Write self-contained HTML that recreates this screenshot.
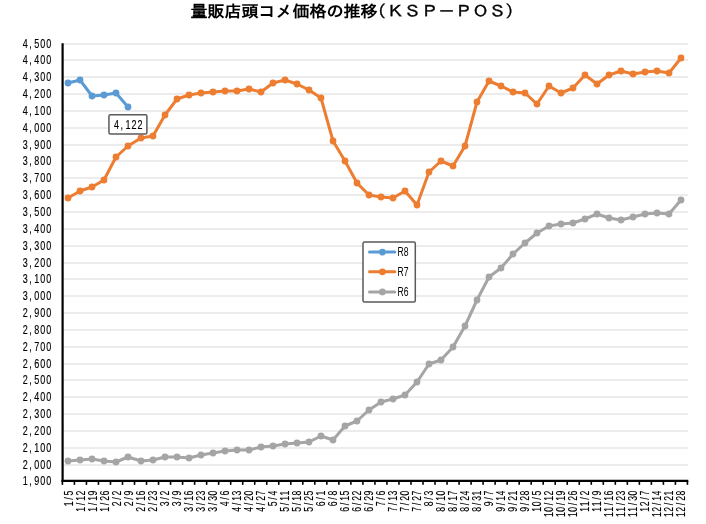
<!DOCTYPE html>
<html lang="ja">
<head>
<meta charset="utf-8">
<title>量販店頭コメ価格の推移（ＫＳＰ－ＰＯＳ）</title>
<style>
html,body{margin:0;padding:0;background:#fff;}
body{width:706px;height:524px;overflow:hidden;font-family:"Liberation Sans","IPAGothic",sans-serif;}
svg{display:block;}
</style>
</head>
<body>
<svg width="706" height="524" viewBox="0 0 706 524">
<rect x="0" y="0" width="706" height="524" fill="#ffffff"/>
<g stroke="#d9d9d9" stroke-width="1" fill="none">
<line x1="62.60" y1="465.00" x2="688.30" y2="465.00"/>
<line x1="62.60" y1="448.00" x2="688.30" y2="448.00"/>
<line x1="62.60" y1="431.00" x2="688.30" y2="431.00"/>
<line x1="62.60" y1="414.00" x2="688.30" y2="414.00"/>
<line x1="62.60" y1="397.00" x2="688.30" y2="397.00"/>
<line x1="62.60" y1="380.00" x2="688.30" y2="380.00"/>
<line x1="62.60" y1="364.00" x2="688.30" y2="364.00"/>
<line x1="62.60" y1="347.00" x2="688.30" y2="347.00"/>
<line x1="62.60" y1="330.00" x2="688.30" y2="330.00"/>
<line x1="62.60" y1="313.00" x2="688.30" y2="313.00"/>
<line x1="62.60" y1="296.00" x2="688.30" y2="296.00"/>
<line x1="62.60" y1="279.00" x2="688.30" y2="279.00"/>
<line x1="62.60" y1="263.00" x2="688.30" y2="263.00"/>
<line x1="62.60" y1="246.00" x2="688.30" y2="246.00"/>
<line x1="62.60" y1="229.00" x2="688.30" y2="229.00"/>
<line x1="62.60" y1="212.00" x2="688.30" y2="212.00"/>
<line x1="62.60" y1="195.00" x2="688.30" y2="195.00"/>
<line x1="62.60" y1="178.00" x2="688.30" y2="178.00"/>
<line x1="62.60" y1="161.00" x2="688.30" y2="161.00"/>
<line x1="62.60" y1="145.00" x2="688.30" y2="145.00"/>
<line x1="62.60" y1="128.00" x2="688.30" y2="128.00"/>
<line x1="62.60" y1="111.00" x2="688.30" y2="111.00"/>
<line x1="62.60" y1="94.00" x2="688.30" y2="94.00"/>
<line x1="62.60" y1="77.00" x2="688.30" y2="77.00"/>
<line x1="62.60" y1="60.00" x2="688.30" y2="60.00"/>
<line x1="62.60" y1="44.00" x2="688.30" y2="44.00"/>
</g>
<polyline points="68.00,461.00 80.00,460.00 92.00,459.00 104.00,461.00 116.00,462.00 128.00,457.00 141.00,461.00 153.00,460.00 165.00,457.00 177.00,457.00 189.00,458.00 201.00,455.00 213.00,453.00 225.00,451.00 237.00,450.00 249.00,450.00 261.00,447.00 273.00,446.00 285.00,444.00 297.00,443.00 309.00,442.00 321.00,436.00 333.00,440.00 345.00,426.00 357.00,421.00 369.00,410.00 381.00,402.00 393.00,399.00 405.00,395.00 417.00,382.00 429.00,364.00 441.00,360.00 453.00,347.00 465.00,326.00 477.00,300.00 489.00,277.00 501.00,268.00 513.00,254.00 525.00,243.00 537.00,233.00 549.00,226.00 561.00,224.00 573.00,223.00 585.00,219.00 597.00,214.00 609.00,218.00 621.00,220.00 633.00,217.00 645.00,214.00 657.00,213.00 669.00,214.00 681.00,200.00" fill="none" stroke="#a5a5a5" stroke-width="3" stroke-linejoin="round" stroke-linecap="round"/>
<g fill="#a5a5a5">
<circle cx="68.00" cy="461.00" r="3.4"/>
<circle cx="80.00" cy="460.00" r="3.4"/>
<circle cx="92.00" cy="459.00" r="3.4"/>
<circle cx="104.00" cy="461.00" r="3.4"/>
<circle cx="116.00" cy="462.00" r="3.4"/>
<circle cx="128.00" cy="457.00" r="3.4"/>
<circle cx="141.00" cy="461.00" r="3.4"/>
<circle cx="153.00" cy="460.00" r="3.4"/>
<circle cx="165.00" cy="457.00" r="3.4"/>
<circle cx="177.00" cy="457.00" r="3.4"/>
<circle cx="189.00" cy="458.00" r="3.4"/>
<circle cx="201.00" cy="455.00" r="3.4"/>
<circle cx="213.00" cy="453.00" r="3.4"/>
<circle cx="225.00" cy="451.00" r="3.4"/>
<circle cx="237.00" cy="450.00" r="3.4"/>
<circle cx="249.00" cy="450.00" r="3.4"/>
<circle cx="261.00" cy="447.00" r="3.4"/>
<circle cx="273.00" cy="446.00" r="3.4"/>
<circle cx="285.00" cy="444.00" r="3.4"/>
<circle cx="297.00" cy="443.00" r="3.4"/>
<circle cx="309.00" cy="442.00" r="3.4"/>
<circle cx="321.00" cy="436.00" r="3.4"/>
<circle cx="333.00" cy="440.00" r="3.4"/>
<circle cx="345.00" cy="426.00" r="3.4"/>
<circle cx="357.00" cy="421.00" r="3.4"/>
<circle cx="369.00" cy="410.00" r="3.4"/>
<circle cx="381.00" cy="402.00" r="3.4"/>
<circle cx="393.00" cy="399.00" r="3.4"/>
<circle cx="405.00" cy="395.00" r="3.4"/>
<circle cx="417.00" cy="382.00" r="3.4"/>
<circle cx="429.00" cy="364.00" r="3.4"/>
<circle cx="441.00" cy="360.00" r="3.4"/>
<circle cx="453.00" cy="347.00" r="3.4"/>
<circle cx="465.00" cy="326.00" r="3.4"/>
<circle cx="477.00" cy="300.00" r="3.4"/>
<circle cx="489.00" cy="277.00" r="3.4"/>
<circle cx="501.00" cy="268.00" r="3.4"/>
<circle cx="513.00" cy="254.00" r="3.4"/>
<circle cx="525.00" cy="243.00" r="3.4"/>
<circle cx="537.00" cy="233.00" r="3.4"/>
<circle cx="549.00" cy="226.00" r="3.4"/>
<circle cx="561.00" cy="224.00" r="3.4"/>
<circle cx="573.00" cy="223.00" r="3.4"/>
<circle cx="585.00" cy="219.00" r="3.4"/>
<circle cx="597.00" cy="214.00" r="3.4"/>
<circle cx="609.00" cy="218.00" r="3.4"/>
<circle cx="621.00" cy="220.00" r="3.4"/>
<circle cx="633.00" cy="217.00" r="3.4"/>
<circle cx="645.00" cy="214.00" r="3.4"/>
<circle cx="657.00" cy="213.00" r="3.4"/>
<circle cx="669.00" cy="214.00" r="3.4"/>
<circle cx="681.00" cy="200.00" r="3.4"/>
</g>
<polyline points="68.00,198.00 80.00,191.00 92.00,187.00 104.00,180.00 116.00,157.00 128.00,146.00 141.00,138.00 153.00,136.00 165.00,115.00 177.00,99.00 189.00,95.00 201.00,93.00 213.00,92.00 225.00,91.00 237.00,91.00 249.00,89.00 261.00,92.00 273.00,83.00 285.00,80.00 297.00,84.00 309.00,90.00 321.00,98.00 333.00,141.00 345.00,161.00 357.00,183.00 369.00,195.00 381.00,197.00 393.00,198.00 405.00,191.00 417.00,205.00 429.00,172.00 441.00,161.00 453.00,166.00 465.00,146.00 477.00,102.00 489.00,81.00 501.00,86.00 513.00,92.00 525.00,93.00 537.00,104.00 549.00,86.00 561.00,93.00 573.00,88.00 585.00,75.00 597.00,84.00 609.00,75.00 621.00,71.00 633.00,74.00 645.00,72.00 657.00,71.00 669.00,73.00 681.00,58.00" fill="none" stroke="#ed7d31" stroke-width="3" stroke-linejoin="round" stroke-linecap="round"/>
<g fill="#ed7d31">
<circle cx="68.00" cy="198.00" r="3.4"/>
<circle cx="80.00" cy="191.00" r="3.4"/>
<circle cx="92.00" cy="187.00" r="3.4"/>
<circle cx="104.00" cy="180.00" r="3.4"/>
<circle cx="116.00" cy="157.00" r="3.4"/>
<circle cx="128.00" cy="146.00" r="3.4"/>
<circle cx="141.00" cy="138.00" r="3.4"/>
<circle cx="153.00" cy="136.00" r="3.4"/>
<circle cx="165.00" cy="115.00" r="3.4"/>
<circle cx="177.00" cy="99.00" r="3.4"/>
<circle cx="189.00" cy="95.00" r="3.4"/>
<circle cx="201.00" cy="93.00" r="3.4"/>
<circle cx="213.00" cy="92.00" r="3.4"/>
<circle cx="225.00" cy="91.00" r="3.4"/>
<circle cx="237.00" cy="91.00" r="3.4"/>
<circle cx="249.00" cy="89.00" r="3.4"/>
<circle cx="261.00" cy="92.00" r="3.4"/>
<circle cx="273.00" cy="83.00" r="3.4"/>
<circle cx="285.00" cy="80.00" r="3.4"/>
<circle cx="297.00" cy="84.00" r="3.4"/>
<circle cx="309.00" cy="90.00" r="3.4"/>
<circle cx="321.00" cy="98.00" r="3.4"/>
<circle cx="333.00" cy="141.00" r="3.4"/>
<circle cx="345.00" cy="161.00" r="3.4"/>
<circle cx="357.00" cy="183.00" r="3.4"/>
<circle cx="369.00" cy="195.00" r="3.4"/>
<circle cx="381.00" cy="197.00" r="3.4"/>
<circle cx="393.00" cy="198.00" r="3.4"/>
<circle cx="405.00" cy="191.00" r="3.4"/>
<circle cx="417.00" cy="205.00" r="3.4"/>
<circle cx="429.00" cy="172.00" r="3.4"/>
<circle cx="441.00" cy="161.00" r="3.4"/>
<circle cx="453.00" cy="166.00" r="3.4"/>
<circle cx="465.00" cy="146.00" r="3.4"/>
<circle cx="477.00" cy="102.00" r="3.4"/>
<circle cx="489.00" cy="81.00" r="3.4"/>
<circle cx="501.00" cy="86.00" r="3.4"/>
<circle cx="513.00" cy="92.00" r="3.4"/>
<circle cx="525.00" cy="93.00" r="3.4"/>
<circle cx="537.00" cy="104.00" r="3.4"/>
<circle cx="549.00" cy="86.00" r="3.4"/>
<circle cx="561.00" cy="93.00" r="3.4"/>
<circle cx="573.00" cy="88.00" r="3.4"/>
<circle cx="585.00" cy="75.00" r="3.4"/>
<circle cx="597.00" cy="84.00" r="3.4"/>
<circle cx="609.00" cy="75.00" r="3.4"/>
<circle cx="621.00" cy="71.00" r="3.4"/>
<circle cx="633.00" cy="74.00" r="3.4"/>
<circle cx="645.00" cy="72.00" r="3.4"/>
<circle cx="657.00" cy="71.00" r="3.4"/>
<circle cx="669.00" cy="73.00" r="3.4"/>
<circle cx="681.00" cy="58.00" r="3.4"/>
</g>
<polyline points="68.00,83.00 80.00,80.00 92.00,96.00 104.00,95.00 116.00,93.00 128.00,107.00" fill="none" stroke="#5b9bd5" stroke-width="3" stroke-linejoin="round" stroke-linecap="round"/>
<g fill="#5b9bd5">
<circle cx="68.00" cy="83.00" r="3.4"/>
<circle cx="80.00" cy="80.00" r="3.4"/>
<circle cx="92.00" cy="96.00" r="3.4"/>
<circle cx="104.00" cy="95.00" r="3.4"/>
<circle cx="116.00" cy="93.00" r="3.4"/>
<circle cx="128.00" cy="107.00" r="3.4"/>
</g>
<line x1="62.60" y1="43.30" x2="62.60" y2="482.05" stroke="#000" stroke-width="2.2"/>
<line x1="61.50" y1="480.95" x2="688.30" y2="480.95" stroke="#000" stroke-width="2.2" stroke-linecap="butt"/>
<g stroke="#000" stroke-width="1.6">
<line x1="62.40" y1="480.95" x2="62.40" y2="484.85"/>
<line x1="74.42" y1="480.95" x2="74.42" y2="484.85"/>
<line x1="86.44" y1="480.95" x2="86.44" y2="484.85"/>
<line x1="98.46" y1="480.95" x2="98.46" y2="484.85"/>
<line x1="110.48" y1="480.95" x2="110.48" y2="484.85"/>
<line x1="122.50" y1="480.95" x2="122.50" y2="484.85"/>
<line x1="134.52" y1="480.95" x2="134.52" y2="484.85"/>
<line x1="146.54" y1="480.95" x2="146.54" y2="484.85"/>
<line x1="158.56" y1="480.95" x2="158.56" y2="484.85"/>
<line x1="170.58" y1="480.95" x2="170.58" y2="484.85"/>
<line x1="182.60" y1="480.95" x2="182.60" y2="484.85"/>
<line x1="194.62" y1="480.95" x2="194.62" y2="484.85"/>
<line x1="206.64" y1="480.95" x2="206.64" y2="484.85"/>
<line x1="218.66" y1="480.95" x2="218.66" y2="484.85"/>
<line x1="230.68" y1="480.95" x2="230.68" y2="484.85"/>
<line x1="242.70" y1="480.95" x2="242.70" y2="484.85"/>
<line x1="254.72" y1="480.95" x2="254.72" y2="484.85"/>
<line x1="266.74" y1="480.95" x2="266.74" y2="484.85"/>
<line x1="278.76" y1="480.95" x2="278.76" y2="484.85"/>
<line x1="290.78" y1="480.95" x2="290.78" y2="484.85"/>
<line x1="302.80" y1="480.95" x2="302.80" y2="484.85"/>
<line x1="314.82" y1="480.95" x2="314.82" y2="484.85"/>
<line x1="326.84" y1="480.95" x2="326.84" y2="484.85"/>
<line x1="338.86" y1="480.95" x2="338.86" y2="484.85"/>
<line x1="350.88" y1="480.95" x2="350.88" y2="484.85"/>
<line x1="362.90" y1="480.95" x2="362.90" y2="484.85"/>
<line x1="374.92" y1="480.95" x2="374.92" y2="484.85"/>
<line x1="386.94" y1="480.95" x2="386.94" y2="484.85"/>
<line x1="398.96" y1="480.95" x2="398.96" y2="484.85"/>
<line x1="410.98" y1="480.95" x2="410.98" y2="484.85"/>
<line x1="423.00" y1="480.95" x2="423.00" y2="484.85"/>
<line x1="435.02" y1="480.95" x2="435.02" y2="484.85"/>
<line x1="447.04" y1="480.95" x2="447.04" y2="484.85"/>
<line x1="459.06" y1="480.95" x2="459.06" y2="484.85"/>
<line x1="471.08" y1="480.95" x2="471.08" y2="484.85"/>
<line x1="483.10" y1="480.95" x2="483.10" y2="484.85"/>
<line x1="495.12" y1="480.95" x2="495.12" y2="484.85"/>
<line x1="507.14" y1="480.95" x2="507.14" y2="484.85"/>
<line x1="519.16" y1="480.95" x2="519.16" y2="484.85"/>
<line x1="531.18" y1="480.95" x2="531.18" y2="484.85"/>
<line x1="543.20" y1="480.95" x2="543.20" y2="484.85"/>
<line x1="555.22" y1="480.95" x2="555.22" y2="484.85"/>
<line x1="567.24" y1="480.95" x2="567.24" y2="484.85"/>
<line x1="579.26" y1="480.95" x2="579.26" y2="484.85"/>
<line x1="591.28" y1="480.95" x2="591.28" y2="484.85"/>
<line x1="603.30" y1="480.95" x2="603.30" y2="484.85"/>
<line x1="615.32" y1="480.95" x2="615.32" y2="484.85"/>
<line x1="627.34" y1="480.95" x2="627.34" y2="484.85"/>
<line x1="639.36" y1="480.95" x2="639.36" y2="484.85"/>
<line x1="651.38" y1="480.95" x2="651.38" y2="484.85"/>
<line x1="663.40" y1="480.95" x2="663.40" y2="484.85"/>
<line x1="675.42" y1="480.95" x2="675.42" y2="484.85"/>
<line x1="687.44" y1="480.95" x2="687.44" y2="484.85"/>
</g>
<g font-family='"Liberation Sans", "IPAGothic", sans-serif' font-size="12" fill="#000" stroke="#000" stroke-width="0.15">
<text transform="translate(0,485.40) scale(0.75,1)" x="30.27 38.93 45.80 53.80 61.80" y="0">1,900</text>
<text transform="translate(0,469.40) scale(0.75,1)" x="30.27 38.93 45.80 53.80 61.80" y="0">2,000</text>
<text transform="translate(0,452.40) scale(0.75,1)" x="30.27 38.93 45.80 53.80 61.80" y="0">2,100</text>
<text transform="translate(0,435.40) scale(0.75,1)" x="30.27 38.93 45.80 53.80 61.80" y="0">2,200</text>
<text transform="translate(0,418.40) scale(0.75,1)" x="30.27 38.93 45.80 53.80 61.80" y="0">2,300</text>
<text transform="translate(0,401.40) scale(0.75,1)" x="30.27 38.93 45.80 53.80 61.80" y="0">2,400</text>
<text transform="translate(0,384.40) scale(0.75,1)" x="30.27 38.93 45.80 53.80 61.80" y="0">2,500</text>
<text transform="translate(0,368.40) scale(0.75,1)" x="30.27 38.93 45.80 53.80 61.80" y="0">2,600</text>
<text transform="translate(0,351.40) scale(0.75,1)" x="30.27 38.93 45.80 53.80 61.80" y="0">2,700</text>
<text transform="translate(0,334.40) scale(0.75,1)" x="30.27 38.93 45.80 53.80 61.80" y="0">2,800</text>
<text transform="translate(0,317.40) scale(0.75,1)" x="30.27 38.93 45.80 53.80 61.80" y="0">2,900</text>
<text transform="translate(0,300.40) scale(0.75,1)" x="30.27 38.93 45.80 53.80 61.80" y="0">3,000</text>
<text transform="translate(0,283.40) scale(0.75,1)" x="30.27 38.93 45.80 53.80 61.80" y="0">3,100</text>
<text transform="translate(0,267.40) scale(0.75,1)" x="30.27 38.93 45.80 53.80 61.80" y="0">3,200</text>
<text transform="translate(0,250.40) scale(0.75,1)" x="30.27 38.93 45.80 53.80 61.80" y="0">3,300</text>
<text transform="translate(0,233.40) scale(0.75,1)" x="30.27 38.93 45.80 53.80 61.80" y="0">3,400</text>
<text transform="translate(0,216.40) scale(0.75,1)" x="30.27 38.93 45.80 53.80 61.80" y="0">3,500</text>
<text transform="translate(0,199.40) scale(0.75,1)" x="30.27 38.93 45.80 53.80 61.80" y="0">3,600</text>
<text transform="translate(0,182.40) scale(0.75,1)" x="30.27 38.93 45.80 53.80 61.80" y="0">3,700</text>
<text transform="translate(0,165.40) scale(0.75,1)" x="30.27 38.93 45.80 53.80 61.80" y="0">3,800</text>
<text transform="translate(0,149.40) scale(0.75,1)" x="30.27 38.93 45.80 53.80 61.80" y="0">3,900</text>
<text transform="translate(0,132.40) scale(0.75,1)" x="30.27 38.93 45.80 53.80 61.80" y="0">4,000</text>
<text transform="translate(0,115.40) scale(0.75,1)" x="30.27 38.93 45.80 53.80 61.80" y="0">4,100</text>
<text transform="translate(0,98.40) scale(0.75,1)" x="30.27 38.93 45.80 53.80 61.80" y="0">4,200</text>
<text transform="translate(0,81.40) scale(0.75,1)" x="30.27 38.93 45.80 53.80 61.80" y="0">4,300</text>
<text transform="translate(0,64.40) scale(0.75,1)" x="30.27 38.93 45.80 53.80 61.80" y="0">4,400</text>
<text transform="translate(0,48.40) scale(0.75,1)" x="30.27 38.93 45.80 53.80 61.80" y="0">4,500</text>
</g>
<g font-family='"Liberation Sans", "IPAGothic", sans-serif' font-size="12" fill="#000" stroke="#000" stroke-width="0.15">
<text transform="translate(72.76,490.5) rotate(-90) scale(0.72,1)" x="-21.88 -12.92 -6.88" y="0">1/5</text>
<text transform="translate(84.77,490.5) rotate(-90) scale(0.72,1)" x="-29.38 -20.42 -14.38 -6.88" y="0">1/12</text>
<text transform="translate(96.78,490.5) rotate(-90) scale(0.72,1)" x="-29.38 -20.42 -14.38 -6.88" y="0">1/19</text>
<text transform="translate(108.79,490.5) rotate(-90) scale(0.72,1)" x="-29.38 -20.42 -14.38 -6.88" y="0">1/26</text>
<text transform="translate(120.80,490.5) rotate(-90) scale(0.72,1)" x="-21.88 -12.92 -6.88" y="0">2/2</text>
<text transform="translate(132.82,490.5) rotate(-90) scale(0.72,1)" x="-21.88 -12.92 -6.88" y="0">2/9</text>
<text transform="translate(144.83,490.5) rotate(-90) scale(0.72,1)" x="-29.38 -20.42 -14.38 -6.88" y="0">2/16</text>
<text transform="translate(156.84,490.5) rotate(-90) scale(0.72,1)" x="-29.38 -20.42 -14.38 -6.88" y="0">2/23</text>
<text transform="translate(168.85,490.5) rotate(-90) scale(0.72,1)" x="-21.88 -12.92 -6.88" y="0">3/2</text>
<text transform="translate(180.86,490.5) rotate(-90) scale(0.72,1)" x="-21.88 -12.92 -6.88" y="0">3/9</text>
<text transform="translate(192.88,490.5) rotate(-90) scale(0.72,1)" x="-29.38 -20.42 -14.38 -6.88" y="0">3/16</text>
<text transform="translate(204.89,490.5) rotate(-90) scale(0.72,1)" x="-29.38 -20.42 -14.38 -6.88" y="0">3/23</text>
<text transform="translate(216.90,490.5) rotate(-90) scale(0.72,1)" x="-29.38 -20.42 -14.38 -6.88" y="0">3/30</text>
<text transform="translate(228.91,490.5) rotate(-90) scale(0.72,1)" x="-21.88 -12.92 -6.88" y="0">4/6</text>
<text transform="translate(240.92,490.5) rotate(-90) scale(0.72,1)" x="-29.38 -20.42 -14.38 -6.88" y="0">4/13</text>
<text transform="translate(252.94,490.5) rotate(-90) scale(0.72,1)" x="-29.38 -20.42 -14.38 -6.88" y="0">4/20</text>
<text transform="translate(264.95,490.5) rotate(-90) scale(0.72,1)" x="-29.38 -20.42 -14.38 -6.88" y="0">4/27</text>
<text transform="translate(276.96,490.5) rotate(-90) scale(0.72,1)" x="-21.88 -12.92 -6.88" y="0">5/4</text>
<text transform="translate(288.97,490.5) rotate(-90) scale(0.72,1)" x="-29.38 -20.42 -14.38 -6.88" y="0">5/11</text>
<text transform="translate(300.98,490.5) rotate(-90) scale(0.72,1)" x="-29.38 -20.42 -14.38 -6.88" y="0">5/18</text>
<text transform="translate(313.00,490.5) rotate(-90) scale(0.72,1)" x="-29.38 -20.42 -14.38 -6.88" y="0">5/25</text>
<text transform="translate(325.01,490.5) rotate(-90) scale(0.72,1)" x="-21.88 -12.92 -6.88" y="0">6/1</text>
<text transform="translate(337.02,490.5) rotate(-90) scale(0.72,1)" x="-21.88 -12.92 -6.88" y="0">6/8</text>
<text transform="translate(349.03,490.5) rotate(-90) scale(0.72,1)" x="-29.38 -20.42 -14.38 -6.88" y="0">6/15</text>
<text transform="translate(361.04,490.5) rotate(-90) scale(0.72,1)" x="-29.38 -20.42 -14.38 -6.88" y="0">6/22</text>
<text transform="translate(373.06,490.5) rotate(-90) scale(0.72,1)" x="-29.38 -20.42 -14.38 -6.88" y="0">6/29</text>
<text transform="translate(385.07,490.5) rotate(-90) scale(0.72,1)" x="-21.88 -12.92 -6.88" y="0">7/6</text>
<text transform="translate(397.08,490.5) rotate(-90) scale(0.72,1)" x="-29.38 -20.42 -14.38 -6.88" y="0">7/13</text>
<text transform="translate(409.09,490.5) rotate(-90) scale(0.72,1)" x="-29.38 -20.42 -14.38 -6.88" y="0">7/20</text>
<text transform="translate(421.10,490.5) rotate(-90) scale(0.72,1)" x="-29.38 -20.42 -14.38 -6.88" y="0">7/27</text>
<text transform="translate(433.12,490.5) rotate(-90) scale(0.72,1)" x="-21.88 -12.92 -6.88" y="0">8/3</text>
<text transform="translate(445.13,490.5) rotate(-90) scale(0.72,1)" x="-29.38 -20.42 -14.38 -6.88" y="0">8/10</text>
<text transform="translate(457.14,490.5) rotate(-90) scale(0.72,1)" x="-29.38 -20.42 -14.38 -6.88" y="0">8/17</text>
<text transform="translate(469.15,490.5) rotate(-90) scale(0.72,1)" x="-29.38 -20.42 -14.38 -6.88" y="0">8/24</text>
<text transform="translate(481.16,490.5) rotate(-90) scale(0.72,1)" x="-29.38 -20.42 -14.38 -6.88" y="0">8/31</text>
<text transform="translate(493.18,490.5) rotate(-90) scale(0.72,1)" x="-21.88 -12.92 -6.88" y="0">9/7</text>
<text transform="translate(505.19,490.5) rotate(-90) scale(0.72,1)" x="-29.38 -20.42 -14.38 -6.88" y="0">9/14</text>
<text transform="translate(517.20,490.5) rotate(-90) scale(0.72,1)" x="-29.38 -20.42 -14.38 -6.88" y="0">9/21</text>
<text transform="translate(529.21,490.5) rotate(-90) scale(0.72,1)" x="-29.38 -20.42 -14.38 -6.88" y="0">9/28</text>
<text transform="translate(541.22,490.5) rotate(-90) scale(0.72,1)" x="-29.38 -21.88 -12.92 -6.88" y="0">10/5</text>
<text transform="translate(553.24,490.5) rotate(-90) scale(0.72,1)" x="-36.88 -29.38 -20.42 -14.38 -6.88" y="0">10/12</text>
<text transform="translate(565.25,490.5) rotate(-90) scale(0.72,1)" x="-36.88 -29.38 -20.42 -14.38 -6.88" y="0">10/19</text>
<text transform="translate(577.26,490.5) rotate(-90) scale(0.72,1)" x="-36.88 -29.38 -20.42 -14.38 -6.88" y="0">10/26</text>
<text transform="translate(589.27,490.5) rotate(-90) scale(0.72,1)" x="-29.38 -21.88 -12.92 -6.88" y="0">11/2</text>
<text transform="translate(601.28,490.5) rotate(-90) scale(0.72,1)" x="-29.38 -21.88 -12.92 -6.88" y="0">11/9</text>
<text transform="translate(613.30,490.5) rotate(-90) scale(0.72,1)" x="-36.88 -29.38 -20.42 -14.38 -6.88" y="0">11/16</text>
<text transform="translate(625.31,490.5) rotate(-90) scale(0.72,1)" x="-36.88 -29.38 -20.42 -14.38 -6.88" y="0">11/23</text>
<text transform="translate(637.32,490.5) rotate(-90) scale(0.72,1)" x="-36.88 -29.38 -20.42 -14.38 -6.88" y="0">11/30</text>
<text transform="translate(649.33,490.5) rotate(-90) scale(0.72,1)" x="-29.38 -21.88 -12.92 -6.88" y="0">12/7</text>
<text transform="translate(661.34,490.5) rotate(-90) scale(0.72,1)" x="-36.88 -29.38 -20.42 -14.38 -6.88" y="0">12/14</text>
<text transform="translate(673.36,490.5) rotate(-90) scale(0.72,1)" x="-36.88 -29.38 -20.42 -14.38 -6.88" y="0">12/21</text>
<text transform="translate(685.37,490.5) rotate(-90) scale(0.72,1)" x="-36.88 -29.38 -20.42 -14.38 -6.88" y="0">12/28</text>
</g>
<rect x="108.95" y="114.85" width="37.95" height="19.2" rx="1.5" fill="#fff" stroke="#5a5a5a" stroke-width="1.5"/>
<text transform="translate(0,129.0) scale(0.75,1)" x="151.87 160.53 167.40 175.40 183.40" y="0" font-family='"Liberation Sans", "IPAGothic", sans-serif' font-size="12" fill="#000" stroke="#000" stroke-width="0.15">4,122</text>
<rect x="363.0" y="241.9" width="52.3" height="60.2" rx="1.5" fill="#fff" stroke="#5a5a5a" stroke-width="1.5"/>
<line x1="369.5" y1="252.1" x2="394.8" y2="252.1" stroke="#5b9bd5" stroke-width="3" stroke-linecap="round"/>
<circle cx="382.4" cy="252.1" r="3.4" fill="#5b9bd5"/>
<text x="397.6" y="256.4" font-family='"Liberation Sans", "IPAGothic", sans-serif' font-size="12" fill="#000" textLength="11" lengthAdjust="spacingAndGlyphs">R8</text>
<line x1="369.5" y1="271.8" x2="394.8" y2="271.8" stroke="#ed7d31" stroke-width="3" stroke-linecap="round"/>
<circle cx="382.4" cy="271.8" r="3.4" fill="#ed7d31"/>
<text x="397.6" y="276.1" font-family='"Liberation Sans", "IPAGothic", sans-serif' font-size="12" fill="#000" textLength="11" lengthAdjust="spacingAndGlyphs">R7</text>
<line x1="369.5" y1="291.9" x2="394.8" y2="291.9" stroke="#a5a5a5" stroke-width="3" stroke-linecap="round"/>
<circle cx="382.4" cy="291.9" r="3.4" fill="#a5a5a5"/>
<text x="397.6" y="296.2" font-family='"Liberation Sans", "IPAGothic", sans-serif' font-size="12" fill="#000" textLength="11" lengthAdjust="spacingAndGlyphs">R6</text>
<text transform="scale(1.07,1)" y="17.4" font-family='"Liberation Sans", "IPAGothic", sans-serif' font-size="16" font-weight="bold" fill="#000" x="178.04 193.93 209.81 225.70 241.59 257.48 273.36 289.25 305.14 321.03 336.92">量販店頭コメ価格の推移</text>
<text transform="scale(1.1,1)" y="17.4" font-family='"Liberation Sans", "IPAGothic", sans-serif' font-size="16" fill="#000" stroke="#000" stroke-width="0.35" x="335.09 351.50 366.95 382.41 397.86 413.32 428.77 444.23 459.41">（ＫＳＰ－ＰＯＳ）</text>
</svg>
</body>
</html>
